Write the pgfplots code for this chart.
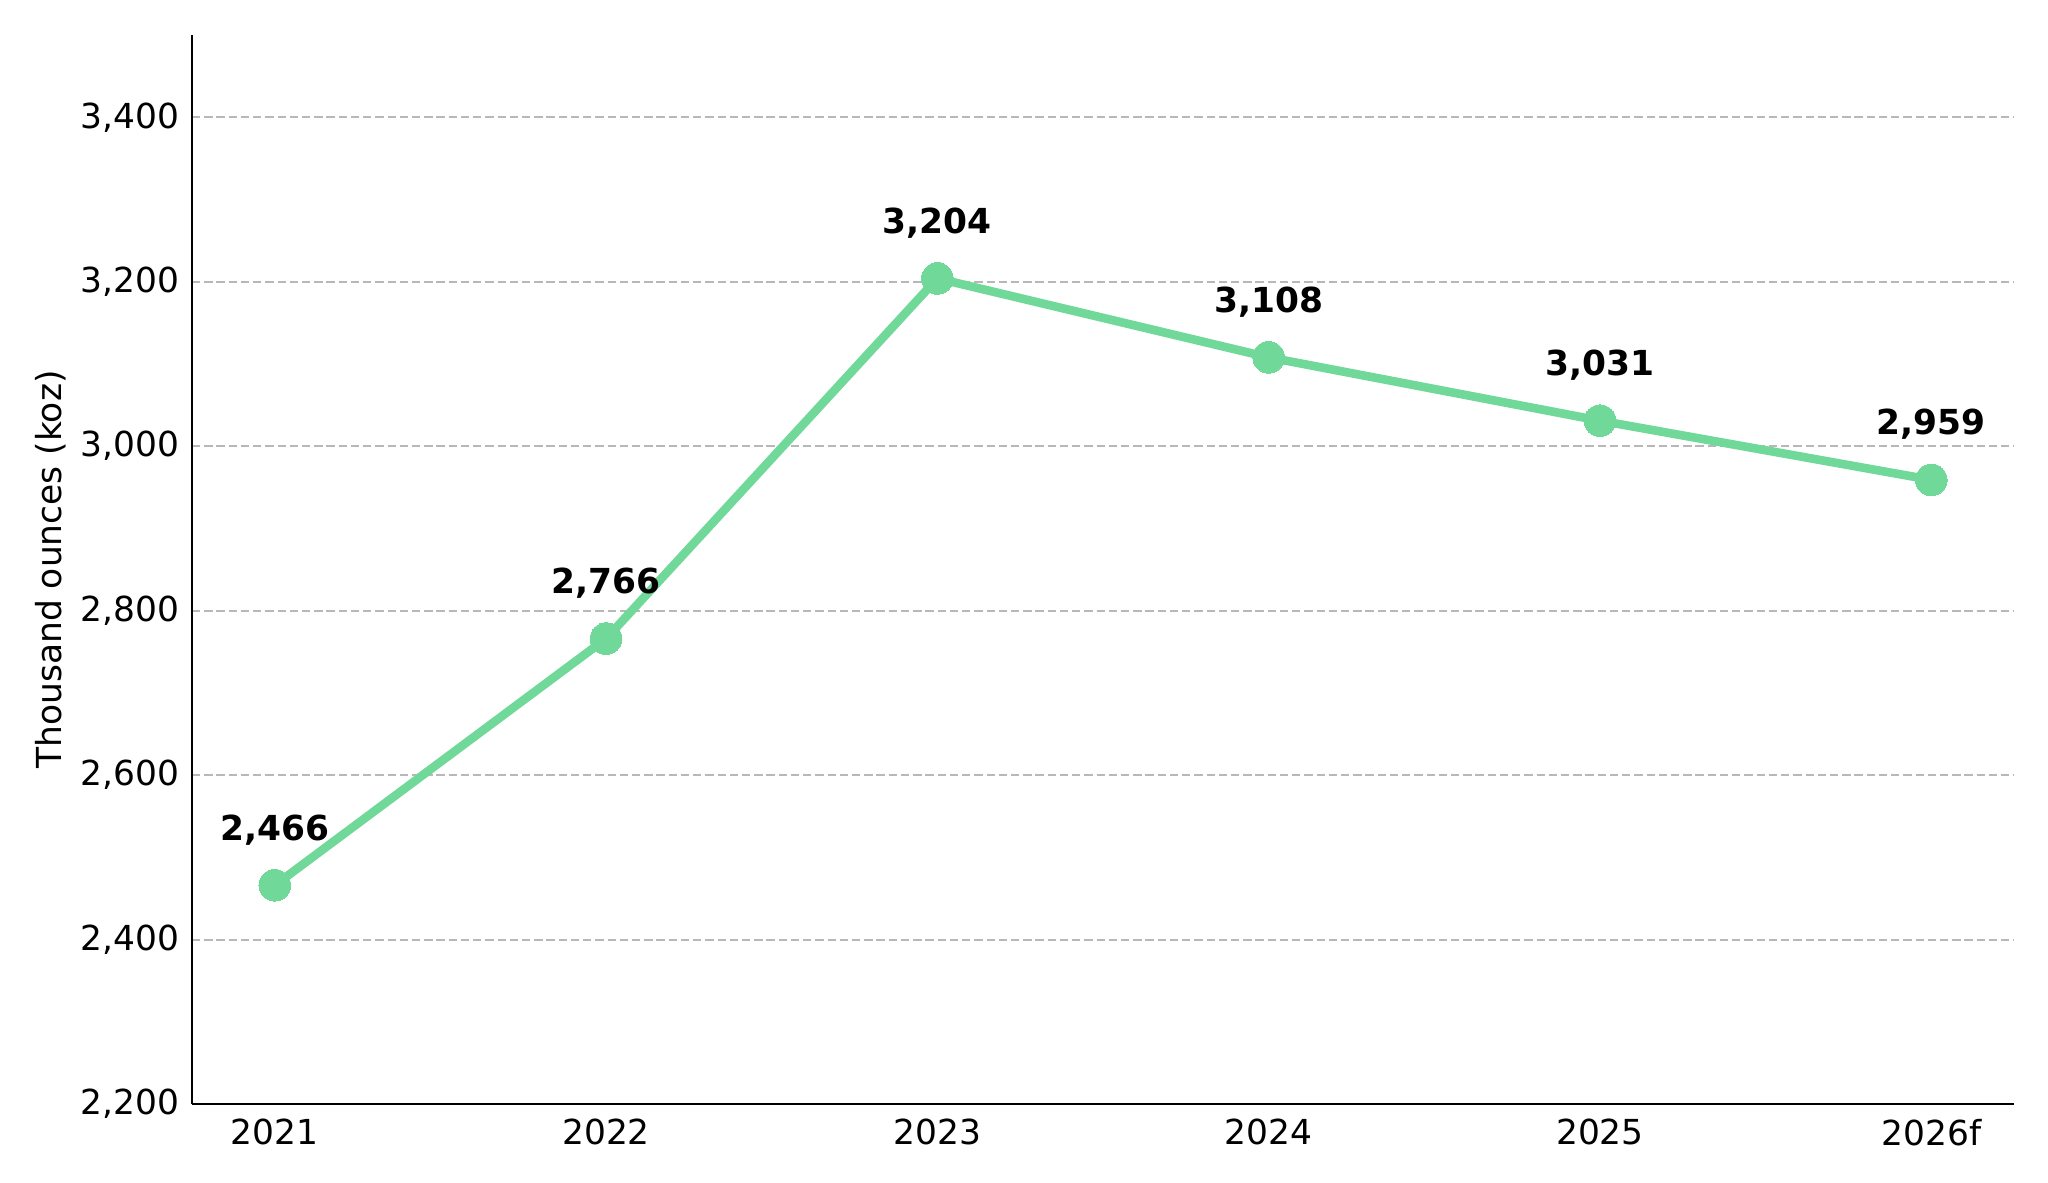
\documentclass[border=0pt]{standalone}
\usepackage{pgfplots}
\pgfplotsset{compat=1.18}
\usepackage{fontspec}
\setmainfont{DejaVu Sans}
\definecolor{linegreen}{RGB}{112,216,152}
\definecolor{gridgray}{RGB}{184,184,184}
\begin{document}
\begin{tikzpicture}
\begin{axis}[
  name=ax,
  scale only axis,
  width=655.9pt, height=384.8pt,
  xmin=-0.25, xmax=5.25,
  ymin=2200, ymax=3500,
  axis lines=left,
  axis line style={line width=1pt, -},
  xtick={0,1,2,3,4,5},
  xticklabels={2021,2022,2023,2024,2025,2026f},
  ytick={2200,2400,2600,2800,3000,3200,3400},
  major tick length=0pt,
  tick label style={font=\fontsize{12.4}{14}\selectfont},
  /pgf/number format/assume math mode=true,
  /pgf/number format/1000 sep={,},
  ymajorgrids,
  major grid style={gridgray, line width=0.7pt, dash pattern=on 3pt off 1.4pt},
  every axis y label/.style={at={(rel axis cs:0,0.5)}, xshift=-51pt, rotate=90, anchor=center, font=\fontsize{12.4}{14}\selectfont},
  ylabel={Thousand ounces (koz)},
  xticklabel style={yshift=-2pt},
  yticklabel style={xshift=-1pt},
  clip=false,
]
\addplot[linegreen, line width=3.1pt, mark=*, mark size=5.7pt, mark options={fill=linegreen, draw=linegreen, line width=0pt},
  nodes near coords,
  every node near coord/.style={anchor=center, yshift=20pt, font=\bfseries\fontsize{12.4}{14}\selectfont, text=black}]
coordinates {(0,2466) (1,2766) (2,3204) (3,3108) (4,3031) (5,2959)};
\end{axis}
\pgfresetboundingbox
\path ([xshift=-69.1pt,yshift=-28.4pt]ax.south west) rectangle ([xshift=12.2pt,yshift=12.6pt]ax.north east);
\end{tikzpicture}
\end{document}
